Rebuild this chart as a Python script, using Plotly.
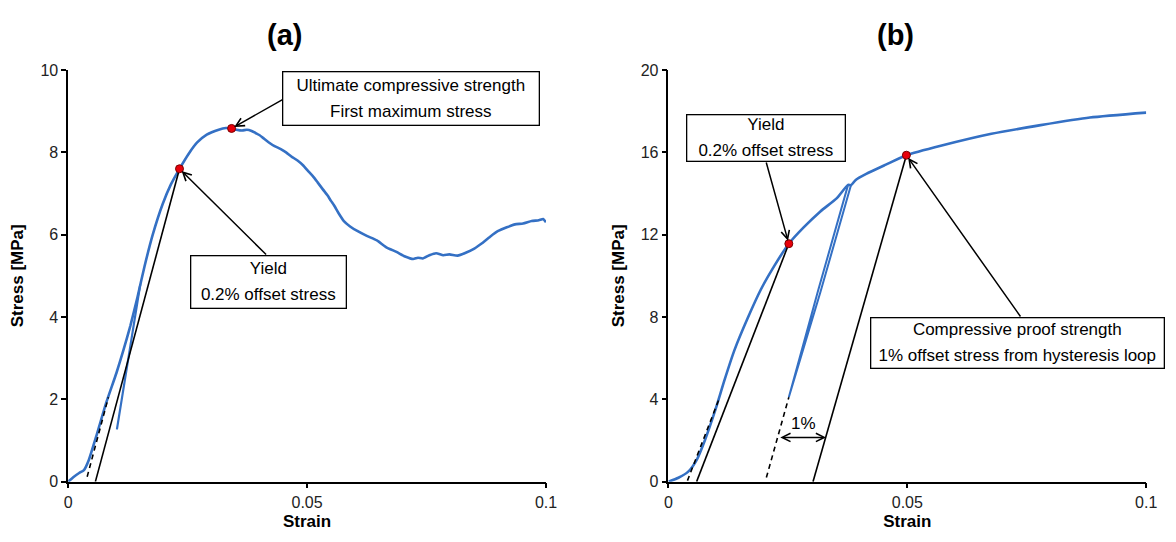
import plotly.graph_objects as go

# ---------------- Panel (a): compressive stress-strain curve ----------------
a_strain = [0.0000, 0.0012, 0.0023, 0.0033, 0.0043, 0.0060, 0.0080, 0.0101, 0.0115, 0.0130,
            0.0145, 0.0160, 0.0177, 0.0198, 0.0215, 0.0233, 0.0253, 0.0270, 0.0290, 0.0315,
            0.0330, 0.0342, 0.0352, 0.0364, 0.0374, 0.0384,
            0.0392, 0.0400, 0.0410, 0.0420, 0.0432, 0.0445, 0.0456, 0.0467, 0.0480, 0.0492,
            0.0501, 0.0512, 0.0522, 0.0533, 0.0543, 0.0550, 0.0556, 0.0566, 0.0577, 0.0590,
            0.0605, 0.0625, 0.0646, 0.0665, 0.0687, 0.0705, 0.0722, 0.0732, 0.0742, 0.0756,
            0.0770, 0.0785, 0.0798, 0.0815, 0.0832, 0.0850, 0.0866, 0.0883, 0.0900, 0.0918,
            0.0935, 0.0952, 0.0970, 0.0985, 0.0994, 0.1000]
a_stress = [0.00, 0.12, 0.21, 0.28, 0.52, 1.15, 1.93, 2.64, 3.17, 3.78,
            4.48, 5.24, 6.00, 6.75, 7.22, 7.60, 7.98, 8.24, 8.43, 8.55,
            8.59, 8.58, 8.55, 8.53, 8.55, 8.52,
            8.47, 8.42, 8.33, 8.24, 8.15, 8.08, 8.00, 7.90, 7.80, 7.68,
            7.56, 7.42, 7.27, 7.10, 6.95, 6.82, 6.72, 6.52, 6.33, 6.20,
            6.09, 5.97, 5.86, 5.70, 5.58, 5.47, 5.41, 5.44, 5.42, 5.50,
            5.55, 5.50, 5.52, 5.49, 5.56, 5.66, 5.79, 5.95, 6.09, 6.18,
            6.25, 6.27, 6.33, 6.35, 6.38, 6.30]

# unloading / reloading branch
a_loop_strain = [0.0151, 0.0102, 0.0151]
a_loop_stress = [4.80, 1.27, 4.80]

a_yield = (0.0233, 7.60)   # 0.2 % offset stress
a_peak = (0.0342, 8.58)    # first maximum stress
a_toe = 0.0037             # strain intercept of the elastic tangent
a_modulus = 434.0          # MPa per unit strain
a_offset = 0.002

# ---------------- Panel (b): curve with hysteresis loop ----------------
b_strain = [0.0000, 0.0021, 0.0042, 0.0059, 0.0076, 0.0097, 0.0118, 0.0138, 0.0166, 0.0194,
            0.0221, 0.0252, 0.0283, 0.0318, 0.0352, 0.0376, 0.0382, 0.0392, 0.0414, 0.0455,
            0.0498, 0.0572, 0.0676, 0.0779, 0.0882, 0.1000]
b_stress = [0.00, 0.19, 0.50, 1.05, 1.99, 3.40, 4.98, 6.38, 7.95, 9.36,
            10.46, 11.56, 12.35, 13.13, 13.76, 14.42, 14.40, 14.66, 14.95, 15.40,
            15.86, 16.33, 16.90, 17.32, 17.69, 17.93]

b_loop_strain = [0.0376, 0.0313, 0.0252, 0.0318, 0.0382]
b_loop_stress = [14.42, 9.26, 4.10, 9.20, 14.40]

b_yield = (0.0252, 11.56)
b_proof = (0.0498, 15.86)
b_toe = 0.0039
b_modulus = 600.0
b_offset = 0.002
b_loop_modulus = 830.0
b_proof_offset = 0.01

BLUE = "#3470c4"
FONT = "Liberation Sans, Arial, sans-serif"

fig = go.Figure()

# ---- panel (a) traces ----
fig.add_trace(go.Scatter(x=a_strain, y=a_stress, mode="lines",
                         line=dict(color=BLUE, width=2.6, shape="spline", smoothing=0.5),
                         xaxis="x", yaxis="y"))
fig.add_trace(go.Scatter(x=a_loop_strain, y=a_loop_stress, mode="lines",
                         line=dict(color=BLUE, width=2.2), xaxis="x", yaxis="y"))
# elastic tangent (dashed) and 0.2 % offset line
s_lo, s_hi = 0.12, 2.05
fig.add_trace(go.Scatter(x=[a_toe + s_lo / a_modulus, a_toe + s_hi / a_modulus], y=[s_lo, s_hi],
                         mode="lines", line=dict(color="black", width=1.6, dash="5px,4px"),
                         xaxis="x", yaxis="y"))
fig.add_trace(go.Scatter(x=[a_toe + a_offset, a_yield[0]], y=[0, a_yield[1]], mode="lines",
                         line=dict(color="black", width=1.6), xaxis="x", yaxis="y"))
fig.add_trace(go.Scatter(x=[a_yield[0], a_peak[0]], y=[a_yield[1], a_peak[1]], mode="markers",
                         marker=dict(color="#e8000b", size=8, line=dict(color="#7a0000", width=1)),
                         xaxis="x", yaxis="y"))

# ---- panel (b) traces ----
fig.add_trace(go.Scatter(x=b_strain, y=b_stress, mode="lines",
                         line=dict(color=BLUE, width=2.6, shape="spline", smoothing=0.6),
                         xaxis="x2", yaxis="y2"))
fig.add_trace(go.Scatter(x=b_loop_strain, y=b_loop_stress, mode="lines",
                         line=dict(color=BLUE, width=2.0), xaxis="x2", yaxis="y2"))
s_lo, s_hi = 0.05, 4.0
fig.add_trace(go.Scatter(x=[b_toe + s_lo / b_modulus, b_toe + s_hi / b_modulus], y=[s_lo, s_hi],
                         mode="lines", line=dict(color="black", width=1.6, dash="5px,4px"),
                         xaxis="x2", yaxis="y2"))
fig.add_trace(go.Scatter(x=[b_toe + b_offset, b_yield[0]], y=[0, b_yield[1]], mode="lines",
                         line=dict(color="black", width=1.6), xaxis="x2", yaxis="y2"))
loop_low = b_loop_stress[2]
loop_int = b_loop_strain[2] - loop_low / b_loop_modulus
s_lo = 0.2
fig.add_trace(go.Scatter(x=[loop_int + s_lo / b_loop_modulus, b_loop_strain[2]], y=[s_lo, loop_low],
                         mode="lines", line=dict(color="black", width=1.6, dash="5px,4px"),
                         xaxis="x2", yaxis="y2"))
fig.add_trace(go.Scatter(x=[loop_int + b_proof_offset, b_proof[0]], y=[0, b_proof[1]], mode="lines",
                         line=dict(color="black", width=1.6), xaxis="x2", yaxis="y2"))
fig.add_trace(go.Scatter(x=[b_yield[0], b_proof[0]], y=[b_yield[1], b_proof[1]], mode="markers",
                         marker=dict(color="#e8000b", size=8, line=dict(color="#7a0000", width=1)),
                         xaxis="x2", yaxis="y2"))

axis_common = dict(showline=True, linecolor="black", linewidth=1.5, ticks="outside",
                   ticklen=5, tickwidth=1.5, tickcolor="black", showgrid=False, zeroline=False,
                   tickfont=dict(family=FONT, size=16, color="#222"))
x_dom_a = [65 / 1176, 549 / 1176]
x_dom_b = [673 / 1176, 1157 / 1176]
y_dom = [53 / 542, 478 / 542]

fig.update_layout(
    width=1176, height=542, margin=dict(l=0, r=0, t=0, b=0),
    paper_bgcolor="white", plot_bgcolor="white", showlegend=False,
    font=dict(family=FONT, color="black"),
    xaxis=dict(domain=x_dom_a, range=[0, 0.1], tickvals=[0, 0.05, 0.1], ticktext=["0", "0.05", "0.1"],
               title=dict(text="<b>Strain</b>", font=dict(size=17), standoff=5), anchor="y", **axis_common),
    yaxis=dict(domain=y_dom, range=[0, 10], tickvals=[0, 2, 4, 6, 8, 10],
               title=dict(text="<b>Stress [MPa]</b>", font=dict(size=17), standoff=12), anchor="x", **axis_common),
    xaxis2=dict(domain=x_dom_b, range=[0, 0.1], tickvals=[0, 0.05, 0.1], ticktext=["0", "0.05", "0.1"],
                title=dict(text="<b>Strain</b>", font=dict(size=17), standoff=5), anchor="y2", **axis_common),
    yaxis2=dict(domain=y_dom, range=[0, 20], tickvals=[0, 4, 8, 12, 16, 20],
                title=dict(text="<b>Stress [MPa]</b>", font=dict(size=17), standoff=12), anchor="x2", **axis_common),
)

def box(xref, yref, x, y, lines, w, h):
    txt = "<br>".join(f"<span style='font-size:17px'>{t}</span>" for t in lines)
    return dict(xref=xref, yref=yref, x=x, y=y, text=txt, showarrow=False,
                xanchor="center", yanchor="middle",
                font=dict(family=FONT, size=20, color="black"),
                bordercolor="black", borderwidth=1.3, borderpad=3, bgcolor="white",
                width=w, height=h, align="center", valign="middle")

def arrow(xref, yref, tip, start, both=False):
    d = dict(xref=xref, yref=yref, axref=xref, ayref=yref, x=tip[0], y=tip[1],
             ax=start[0], ay=start[1], text="", showarrow=True, arrowhead=5,
             arrowsize=1.1, arrowwidth=1.5, arrowcolor="black", standoff=3)
    if both:
        d.update(arrowside="end+start", startarrowhead=5, startarrowsize=1.1, standoff=0, startstandoff=0)
    return d

def panel_title(x_px, label):
    return dict(xref="paper", yref="paper", x=x_px / 1176, y=1 - 28 / 542, text=f"<b>{label}</b>",
                showarrow=False, xanchor="center", yanchor="middle",
                font=dict(family=FONT, size=29, color="black"))

annotations = [
    panel_title(284, "(a)"),
    panel_title(903, "(b)"),
    arrow("x", "y", a_peak, (0.04545, 9.32)),
    arrow("x", "y", a_yield, (0.04174, 5.48)),
    box("x", "y", 0.07169, 9.306, ["Ultimate compressive strength", "First maximum stress"], 249, 46),
    box("x", "y", 0.04184, 4.859, ["Yield", "0.2% offset stress"], 148, 45),
    arrow("x2", "y2", b_yield, (0.02039, 15.58)),
    arrow("x2", "y2", b_proof, (0.07390, 7.95)),
    box("x2", "y2", 0.02045, 16.68, ["Yield", "0.2% offset stress"], 151, 39),
    box("x2", "y2", 0.07304, 6.75, ["Compressive proof strength", "1% offset stress from hysteresis loop"], 286, 43),
    arrow("x2", "y2", (0.0330, 2.15), (0.0231, 2.15), both=True),
    dict(xref="x2", yref="y2", x=0.0283, y=2.82, text="1%", showarrow=False,
         xanchor="center", yanchor="middle", font=dict(family=FONT, size=17, color="black")),
]
fig.update_layout(annotations=annotations)

fig.write_html("out.html")
